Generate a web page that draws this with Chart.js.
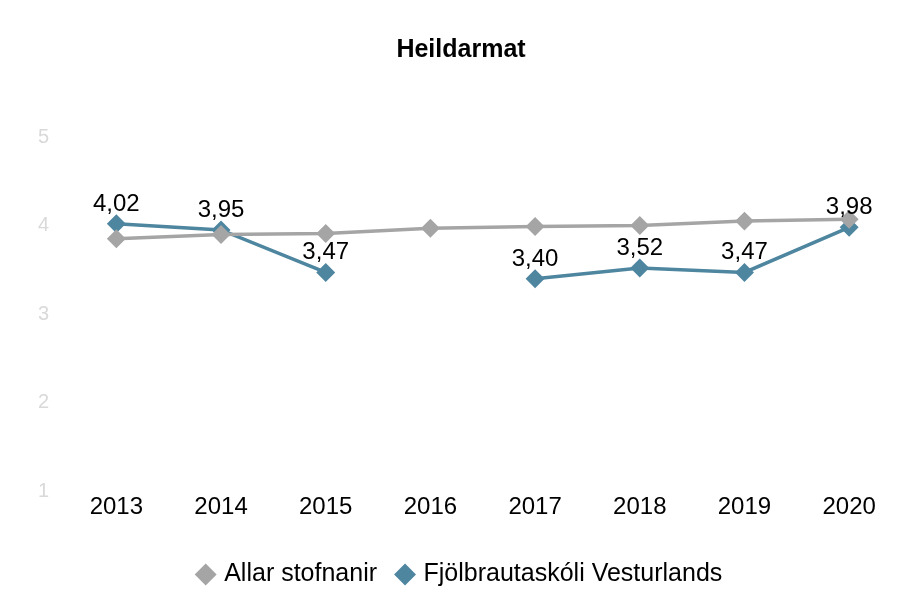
<!DOCTYPE html>
<html>
<head>
<meta charset="utf-8">
<script src="https://cdn.jsdelivr.net/npm/chart.js@4"></script>
<style>
  html, body { margin: 0; padding: 0; background: #fff; }
  #wrap { width: 912px; height: 590px; }
</style>
</head>
<body>
<div id="wrap"><canvas id="linechart"></canvas></div>
<script>
var years = ['2013', '2014', '2015', '2016', '2017', '2018', '2019', '2020']
var allarStofnanir = [3.85, 3.90, 3.91, 3.97, 3.99, 4.00, 4.05, 4.07]
var vesturlands = [4.02, 3.95, 3.47, null, 3.40, 3.52, 3.47, 3.98]
var yTicks = [1, 2, 3, 4, 5]

var fontFam = '"Liberation Sans", Arial, sans-serif'

// labels above the blue points
var valueLabels = {
  id: 'valueLabels',
  afterDatasetsDraw: function (chart) {
    var ctx = chart.ctx
    var meta = chart.getDatasetMeta(1)
    ctx.save()
    ctx.font = '24px ' + fontFam
    ctx.fillStyle = '#000'
    ctx.textAlign = 'center'
    ctx.textBaseline = 'alphabetic'
    meta.data.forEach(function (pt, i) {
      var v = vesturlands[i]
      if (v === null) return
      ctx.fillText(v.toFixed(2).replace('.', ','), pt.x, pt.y - 13)
    })
    ctx.restore()
  }
}

var chart1 = document.getElementById('linechart')
var myChart = new Chart(chart1, {
  type: 'line',
  data: {
    labels: years,
    datasets: [{
      label: 'Allar stofnanir',
      data: allarStofnanir,
      borderColor: '#a5a5a5',
      backgroundColor: '#a5a5a5',
      borderWidth: 3.5,
      pointStyle: 'rectRot',
      pointRadius: 7,
      pointHoverRadius: 7,
      tension: 0
    }, {
      label: 'Fjölbrautaskóli Vesturlands',
      data: vesturlands,
      borderColor: '#4e86a0',
      backgroundColor: '#4e86a0',
      borderWidth: 3.5,
      pointStyle: 'rectRot',
      pointRadius: 7,
      pointHoverRadius: 7,
      spanGaps: false,
      tension: 0
    }]
  },
  options: {
    responsive: true,
    maintainAspectRatio: false,
    animation: false,
    layout: {
      padding: { left: 20, right: 10, top: 20, bottom: -7 }
    },
    plugins: {
      title: {
        display: true,
        text: 'Heildarmat',
        color: '#000',
        font: { family: fontFam, size: 25, weight: 'bold' },
        padding: { top: 15, bottom: 72 }
      },
      legend: {
        display: true,
        position: 'bottom',
        labels: {
          usePointStyle: true,
          pointStyle: 'rectRot',
          boxWidth: 12,
          boxHeight: 12,
          color: '#000',
          padding: 22,
          font: { family: fontFam, size: 25 }
        }
      },
      tooltip: { enabled: false }
    },
    scales: {
      x: {
        offset: true,
        afterFit: function (axis) { axis.height += 16 },
        grid: { display: false, drawTicks: false, offset: true },
        border: { display: false },
        ticks: {
          color: '#000',
          padding: 2,
          font: { family: fontFam, size: 24 }
        }
      },
      y: {
        min: 1,
        max: 5,
        afterBuildTicks: function (axis) {
          axis.ticks = yTicks.map(function (v) { return { value: v } })
        },
        afterFit: function (axis) { axis.width = 44 },
        grid: { display: false, drawTicks: false },
        border: { display: false },
        ticks: {
          color: '#d9d9d9',
          padding: 15,
          font: { family: fontFam, size: 20 }
        }
      }
    }
  },
  plugins: [valueLabels]
})
</script>
</body>
</html>
